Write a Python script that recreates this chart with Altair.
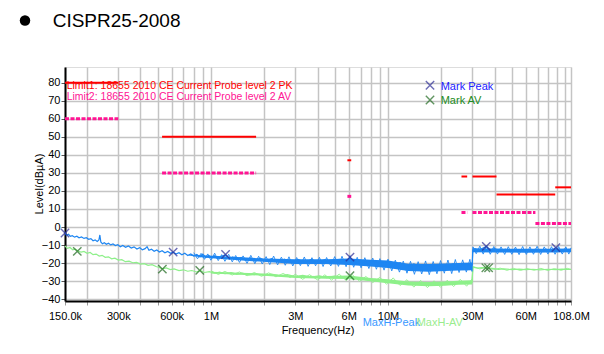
import altair as alt
import pandas as pd

# ---------------- data (frequencies in MHz, levels in dBuA) ----------------
peak_f = [0.150,0.153,0.157,0.161,0.165,0.170,0.175,0.180,0.186,0.192,0.198,0.204,0.210,0.216,0.222,0.228,
          0.233,0.236,0.239,0.244,0.250,0.257,0.264,0.272,0.280,0.289,0.298,0.308,0.318,0.330,0.342,0.355,
          0.368,0.382,0.396,0.410,0.425,0.436,0.447,0.462,0.478,0.495,0.512,0.530,0.550,0.570,0.592,0.612,
          0.635,0.660,0.686,0.712,0.740,0.770,0.800,0.833,0.867,0.900,0.936,0.973,1.01,1.05,1.09,1.14,1.21,
          1.27,1.33,1.40,1.48,1.57,1.67,1.78,1.90,2.05,2.2,2.4,2.6,2.85,3.1,3.4,3.7,4.0,4.4,4.8,5.3,5.8,6.1,
          6.5,7.0,7.6,8.3,9.0,9.8,10.7,11.7,12.8,14.0,15.3,16.7,18.2,19.8,21.5,23.3,25.2,27.2,29.5,29.9,
          30.1,31,32.5,34,35.9,38,40,43,46,49,52,56,60,64,68,73,78,83,88.7,94,100,108]
peak_db = [-3.0,-4.6,-4.0,-5.2,-4.8,-5.6,-5.1,-6.0,-5.5,-6.3,-5.9,-6.8,-6.4,-7.6,-7.1,-8.0,
           -7.2,-4.4,-8.3,-9.3,-8.7,-9.6,-9.0,-9.9,-9.4,-10.3,-9.8,-10.9,-10.2,-11.2,-10.5,-11.6,
           -11.0,-12.2,-11.4,-12.6,-12.0,-10.9,-12.9,-12.3,-13.4,-12.7,-13.8,-13.1,-14.3,-13.5,-14.6,-13.9,
           -15.0,-14.2,-15.4,-14.5,-15.8,-14.9,-16.1,-15.2,-16.6,-15.0,-16.9,-15.8,-17.2,-16.0,-17.5,-16.3,-15.4,
           -17.8,-16.6,-18.2,-16.9,-18.5,-17.1,-18.8,-17.3,-19.0,-17.6,-19.3,-17.8,-19.5,-17.9,-19.6,-18.0,-19.7,-18.1,-19.6,-17.9,-19.3,-17.0,
           -19.5,-18.3,-20.0,-18.6,-20.6,-19.0,-21.3,-19.8,-22.0,-20.5,-22.4,-20.8,-22.5,-20.7,-22.3,-20.4,-22.0,-20.2,-21.6,-20.8,
           -12.8,-12.0,-13.2,-11.9,-10.8,-12.8,-12.0,-13.3,-12.2,-13.5,-12.3,-13.4,-12.4,-13.5,-12.3,-13.3,-12.2,-13.2,-11.4,-12.9,-12.2,-13.0]

peak_spike_f = [0.80,0.84,0.88,0.92,0.96,1.0,1.05,1.1,1.15,1.2,1.26,1.32,1.38,1.45,1.52,1.6,1.68,1.77,1.86,1.95,
                2.05,2.15,2.26,2.38,2.5,2.63,2.76,2.9,3.05,3.2,3.37,3.54,3.72,3.9,4.1,4.3,4.5,4.75,5.0,5.25,
                5.5,5.8,6.1,6.4,6.7,7.05,7.4,7.8,8.2,8.6,9.0,9.5,10.0,10.5,11.0,11.6,12.2,12.8,13.4,14.1,
                14.8,15.5,16.3,17.1,18.0,18.9,19.8,20.8,21.8,22.9,24.0,25.2,26.4,27.7,29.0,29.8,
                30.2,31.5,33,34.5,36,37.8,39.6,41.5,43.5,45.6,47.8,50,52.5,55,57.6,60.4,63.3,66.3,69.5,72.8,
                76.3,80,83.8,87.8,92,96.4,101,105,108]
peak_spike_db = [-14.2,-17.6,-14.6,-17.9,-14.9,-18.4,-14.5,-18.6,-15.3,-19.0,-15.1,-19.3,-15.8,-19.6,-16.0,-20.1,-15.7,-20.3,-16.2,-20.5,
                 -16.4,-20.8,-16.1,-21.0,-16.7,-21.2,-16.5,-21.6,-16.9,-21.4,-16.6,-21.8,-17.0,-21.5,-16.8,-21.9,-16.9,-21.6,-16.4,-21.8,
                 -16.2,-22.0,-15.9,-22.3,-16.8,-22.6,-17.0,-23.0,-17.2,-23.4,-17.5,-23.9,-17.8,-24.3,-18.4,-25.0,-18.9,-25.6,-19.0,-26.2,
                 -19.2,-26.0,-18.8,-26.4,-19.1,-25.9,-18.6,-25.6,-18.3,-25.8,-18.0,-25.2,-18.2,-25.0,-17.9,-24.6,
                 -11.0,-14.8,-10.6,-15.0,-10.4,-15.1,-10.8,-15.0,-11.0,-15.2,-10.9,-15.1,-11.1,-15.3,-10.8,-15.2,-11.0,-15.1,-10.7,-15.2,
                 -11.0,-15.0,-10.9,-15.1,-10.8,-15.0,-11.0,-15.0,-11.5]

peak_band_f  = [0.75, 0.9, 1.1, 1.5, 2.0, 3.0, 4.5, 6.0, 8.0, 10.0, 13.0, 17.0, 21.0, 25.0, 29.9, 30.1, 40, 60, 80, 108]
peak_band_lo = [-15.8,-16.9,-17.6,-18.6,-19.3,-20.5,-20.5,-21.0,-21.9,-22.7,-24.4,-24.8,-24.4,-24.1,-23.9,-14.0,-14.1,-14.2,-14.1,-14.0]
peak_band_hi = [-15.2,-15.6,-16.0,-16.8,-17.4,-17.9,-17.9,-17.4,-18.1,-18.5,-20.4,-20.5,-20.2,-19.9,-19.7,-11.8,-11.9,-12.1,-12.0,-11.9]

av_f = [0.150,0.155,0.160,0.166,0.172,0.178,0.185,0.192,0.200,0.208,0.216,0.225,0.234,0.243,0.253,0.264,
        0.275,0.287,0.300,0.314,0.329,0.345,0.362,0.380,0.400,0.420,0.442,0.465,0.490,0.515,0.532,0.56,0.59,
        0.62,0.66,0.70,0.74,0.78,0.83,0.87,0.92,0.98,1.05,1.12,1.2,1.3,1.4,1.5,1.65,1.8,2.0,2.2,2.45,2.7,
        3.0,3.3,3.7,4.1,4.5,5.0,5.5,6.0,6.5,7.1,7.8,8.5,9.3,10.2,11.2,12.3,13.5,14.8,16.2,17.7,19.3,21,23,
        25,27,29.5,29.9,30.1,32,34,35.7,37,39,42,45,50,55,60,66,72,80,88,96,108]
av_db = [-10.5,-11.8,-11.3,-12.6,-12.2,-13.4,-13.9,-13.5,-14.6,-14.1,-15.3,-15.0,-16.1,-15.7,-16.8,-16.5,
         -17.6,-17.3,-18.3,-18.1,-19.2,-18.9,-19.8,-19.6,-20.5,-20.3,-21.2,-20.9,-21.9,-22.6,-23.2,-22.7,-23.6,
         -23.2,-24.1,-23.7,-24.5,-24.1,-24.9,-24.0,-25.2,-24.7,-25.6,-25.0,-25.9,-25.3,-26.2,-25.6,-26.5,-25.9,-26.8,-26.1,-27.1,-26.4,
         -27.5,-26.8,-27.8,-27.0,-28.0,-27.2,-28.0,-27.3,-28.4,-28.8,-29.4,-29.0,-30.2,-29.8,-30.9,-30.6,-31.6,-31.2,-32.0,-31.4,-31.8,-31.0,-31.3,
         -30.6,-30.8,-30.3,-30.5,-22.3,-22.8,-22.5,-22.6,-22.7,-22.9,-23.5,-23.2,-23.6,-23.3,-23.6,-23.4,-23.7,-23.4,-23.6,-23.3,-23.5]

av_spike_f = [1.0,1.1,1.2,1.32,1.45,1.6,1.76,1.93,2.12,2.33,2.56,2.8,3.0,3.3,3.6,4.0,4.4,4.8,5.3,5.8,6.3,6.9,7.5,8.2,
              9.0,9.8,10.7,11.7,12.8,14.0,15.3,16.7,18.2,19.8,21.6,23.5,25.6,27.8,29.8,
              30.3,33,36,39.5,43,47,51,56,61,67,73,80,87,95,103,108]
av_spike_db = [-24.2,-26.3,-24.6,-26.6,-24.9,-27.0,-25.2,-27.3,-25.4,-27.6,-25.7,-28.0,-26.2,-29.0,-26.4,-29.3,-26.5,-29.4,-26.1,-29.6,
               -26.5,-30.0,-27.4,-30.8,-27.9,-31.7,-28.2,-32.4,-29.2,-33.3,-29.6,-33.6,-29.8,-33.4,-29.5,-33.0,-29.0,-32.8,-28.8,
               -21.9,-23.2,-22.2,-23.6,-22.8,-24.0,-22.9,-24.1,-23.0,-24.0,-22.9,-24.1,-23.0,-24.0,-22.9,-23.6]

av_band_f  = [1.0, 2.0, 3.0, 4.5, 6.0, 8.0, 10.0, 13.0, 17.0, 21.0, 25.0, 29.9]
av_band_lo = [-25.8,-27.0,-28.3,-28.6,-28.8,-30.1,-31.1,-32.4,-32.8,-32.5,-32.0,-31.8]
av_band_hi = [-24.8,-25.8,-27.0,-27.2,-26.8,-28.3,-28.9,-30.2,-30.5,-30.2,-29.8,-29.5]

mark_peak_f  = [0.150, 0.612, 1.21, 6.1, 35.9, 88.7]
mark_peak_db = [-3.3, -13.9, -15.2, -16.7, -10.7, -11.4]
mark_av_f  = [0.176, 0.532, 0.865, 6.1, 35.7, 37.0]
mark_av_db = [-13.5, -23.3, -24.0, -27.0, -22.6, -22.6]

# limit segments: start MHz, end MHz, level
pk_start = [0.15, 0.53, 5.9, 26.0, 30.0, 41.0, 88.0]
pk_end   = [0.30, 1.8, 6.2, 28.0, 41.0, 88.0, 108.0]
pk_level = [80, 50, 37, 28, 28, 18, 22]
av_start = [0.15, 0.53, 5.9, 26.0, 30.0, 68.0]
av_end   = [0.30, 1.8, 6.2, 28.0, 68.0, 108.0]
av_level = [60, 30, 17, 8, 8, 2]

tick_vals = [0.15,0.2,0.3,0.4,0.5,0.6,0.7,0.8,0.9,1,2,3,4,5,6,7,8,9,10,20,30,40,50,60,70,80,90,100,108]
tick_labels = {0.15: "150.0k", 0.3: "300k", 0.6: "600k", 1: "1M", 3: "3M", 6: "6M",
               10: "10M", 30: "30M", 60: "60M", 108: "108.0M"}

FONT = "Liberation Sans Narrow, Liberation Sans, Arial"
W, H = 506, 234

# ---------------- scales & axes ----------------
xs = alt.Scale(type="log", domain=[0.15, 108], nice=False)
ys = alt.Scale(domain=[-41, 88.7], nice=False, zero=False)

label_expr = " : ".join(f"datum.value == {k} ? '{v}'" for k, v in tick_labels.items()) + " : ''"
xaxis = alt.Axis(values=tick_vals, labelExpr=label_expr, title=None, grid=True, gridColor="#c4c4c4",
                 gridWidth=1.5, domainColor="black", domainWidth=2, tickColor="#999", tickSize=4,
                 labelFont=FONT, labelFontSize=11, labelColor="black", labelPadding=5,
                 labelOverlap=False, labelFlush=False)
yaxis = alt.Axis(values=list(range(-40, 81, 10)), title=None, grid=True, gridColor="#c4c4c4",
                 gridWidth=1.5, domainColor="black", domainWidth=2, tickColor="#555", tickSize=4,
                 labelFont=FONT, labelFontSize=11, labelColor="black", labelPadding=1)

def X(field):
    return alt.X(f"{field}:Q", scale=xs, axis=xaxis)

def Y(field):
    return alt.Y(f"{field}:Q", scale=ys, axis=yaxis)

# ---------------- frames ----------------
pk_df = pd.DataFrame({"f": pk_start, "f2": pk_end, "v": pk_level})
av_df = pd.DataFrame({"f": av_start, "f2": av_end, "v": av_level})
peak_df = pd.DataFrame({"f": peak_f, "v": peak_db})
pspike_df = pd.DataFrame({"f": peak_spike_f, "v": peak_spike_db})
av_line_df = pd.DataFrame({"f": av_f, "v": av_db})
aspike_df = pd.DataFrame({"f": av_spike_f, "v": av_spike_db})
pband_df = pd.DataFrame({"f": peak_band_f, "lo": peak_band_lo, "hi": peak_band_hi})
aband_df = pd.DataFrame({"f": av_band_f, "lo": av_band_lo, "hi": av_band_hi})
mp_df = pd.DataFrame({"f": mark_peak_f, "v": mark_peak_db})
ma_df = pd.DataFrame({"f": mark_av_f, "v": mark_av_db})

BLUE = "#1e86f2"
GREEN = "#8ef08a"
XSHAPE = "M -1 -1 L 1 1 M -1 1 L 1 -1"

av_band = alt.Chart(aband_df).mark_area(color=GREEN, opacity=1).encode(x=X("f"), y=Y("lo"), y2="hi")
av_spk = alt.Chart(aspike_df).mark_line(color=GREEN, strokeWidth=0.9).encode(x=X("f"), y=Y("v"))
av_line = alt.Chart(av_line_df).mark_line(color=GREEN, strokeWidth=1.2).encode(x=X("f"), y=Y("v"))
pk_band = alt.Chart(pband_df).mark_area(color=BLUE, opacity=1).encode(x=X("f"), y=Y("lo"), y2="hi")
pk_spk = alt.Chart(pspike_df).mark_line(color=BLUE, strokeWidth=0.9).encode(x=X("f"), y=Y("v"))
pk_line = alt.Chart(peak_df).mark_line(color=BLUE, strokeWidth=1.2).encode(x=X("f"), y=Y("v"))

pk_rules = alt.Chart(pk_df).mark_rule(color="#ff0000", strokeWidth=2).encode(x=X("f"), x2="f2", y=Y("v"))
av_rules = alt.Chart(av_df).mark_rule(color="#ff1493", strokeWidth=3, strokeDash=[4, 1.5]).encode(
    x=X("f"), x2="f2", y=Y("v"))

mp = alt.Chart(mp_df).mark_point(shape=XSHAPE, size=70, color="#2c2c96", strokeWidth=1.4, filled=False).encode(
    x=X("f"), y=Y("v"))
ma = alt.Chart(ma_df).mark_point(shape=XSHAPE, size=70, color="#1f6a1f", strokeWidth=1.4, filled=False).encode(
    x=X("f"), y=Y("v"))

def txt(s, x, y, color, size=11, font=FONT, align="left", angle=0):
    kw = dict(text=s, font=font, fontSize=size, color=color, align=align, baseline="alphabetic")
    if angle:
        kw["angle"] = angle
    return alt.Chart(pd.DataFrame({"a": [0]})).mark_text(**kw).encode(x=alt.value(x), y=alt.value(y))

texts = [
    txt("Limit1: 18655 2010 CE Current Probe level 2 PK", 1.7, 21.5, "#ff0000", 10.5),
    txt("Limit2: 18655 2010 CE Current Probe level 2 AV", 1.7, 32.5, "#ff1493", 10.5),
    txt("Mark Peak", 375.7, 22.5, "#2020ff", 11),
    txt("Mark AV", 375.7, 37, "#228b22", 11),
    txt("MaxH-Peak", 297.7, 259, "#3a98ff", 11),
    txt("MaxH-AV", 351.7, 259, "#9aec8e", 11),
    txt("Frequency(Hz)", 253, 267, "black", 11, align="center"),
    txt("Level(dBµA)", -22, 117, "black", 11, align="center", angle=270),
    txt("CISPR25-2008", -12.3, -40.3, "black", 19, font="Liberation Sans, Arial"),
]

one = pd.DataFrame({"a": [0]})
leg_mp = alt.Chart(one).mark_point(shape=XSHAPE, size=70, color="#2c2c96", strokeWidth=1.4, filled=False).encode(
    x=alt.value(365), y=alt.value(18.3))
leg_ma = alt.Chart(one).mark_point(shape=XSHAPE, size=70, color="#1f6a1f", strokeWidth=1.4, filled=False).encode(
    x=alt.value(365), y=alt.value(33))
bullet = alt.Chart(one).mark_point(shape="circle", size=110, color="black", filled=True, opacity=1).encode(
    x=alt.value(-40), y=alt.value(-46.5))

chart = alt.layer(
    av_band, av_spk, av_line, pk_band, pk_spk, pk_line, pk_rules, av_rules, mp, ma, leg_mp, leg_ma, bullet, *texts
).properties(
    width=W, height=H,
    padding={"left": 65, "top": 67, "right": 33, "bottom": 53},
    autosize=alt.AutoSizeParams(type="none"),
).configure_view(stroke="#888888", strokeWidth=1).configure(background="white")

chart.save("out.html", embed_options={"renderer": "svg", "actions": False})
